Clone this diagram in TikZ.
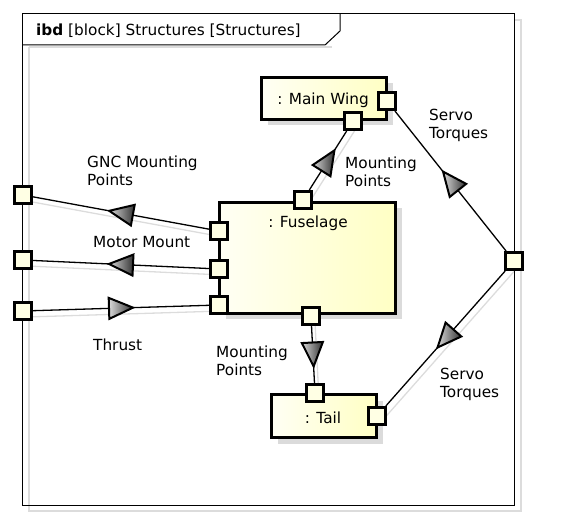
\documentclass[tikz,border=0pt]{standalone}
\usepackage{fontspec}
\setmainfont{DejaVu Sans}
\usepackage{xcolor}
\usetikzlibrary{shadows,backgrounds}

\definecolor{partL}{HTML}{FFFFF4}
\definecolor{partR}{HTML}{FFFFC4}
\definecolor{portY}{HTML}{FFFFE4}
\definecolor{lightline}{HTML}{DCDCDC}

\tikzset{
	part/.style={draw, line width=3pt, left color=partL, right color=partR, inner sep=0,
		drop shadow={shadow xshift=6pt, shadow yshift=-6pt, fill=black!14, opacity=1}},
	port/.style={draw, line width=3pt, fill=portY, minimum size=17pt, inner sep=0},
	wire/.style={line width=1.3pt},
	wireshade/.style={line width=1.3pt, draw=lightline},
	lbl/.style={anchor=north west, inner sep=0, align=left},
	flowtip/.pic={\draw[line width=2pt, left color=gray!30, right color=black!80, line join=miter] (-12,-10.5) -- (12,0) -- (-12,10.5) -- cycle;}
}

\begin{document}
\begin{tikzpicture}[x=1pt, y=-1pt, font=\fontsize{15.3}{18}\selectfont]
		\useasboundingbox (0,0) rectangle (578,518);
		%框
		\draw[line width=1pt] (22,14) rectangle (514,505);
		\draw[line width=1pt] (22,45) -- (325,45) -- (340,31) -- (340,14);
		\node[anchor=base west, inner sep=0](title) at (36,36) {\textbf{ibd} [block] Structures [Structures]};
		%部件
		\draw (324,98.5) node[part, minimum width=125pt, minimum height=42pt](wing){};
		\draw (307.5,258) node[part, minimum width=176pt, minimum height=111pt](fuse){};
		\draw (324,416) node[part, minimum width=105pt, minimum height=43pt](tail){};
		\draw (323,105) node[anchor=base](wing-t){: Main Wing} (308,228) node[anchor=base](fuse-t){: Fuselage} (323,423) node[anchor=base](tail-t){: Tail};
		%端口
		\draw (23,195) node[port](b-1){} (23,260) node[port](b-2){} (23,311) node[port](b-3){} (514,261) node[port](b-4){};
		\draw (387,101) node[port](wi-r){} (353,121) node[port](wi-b){};
		\draw (303,200) node[port](fu-t){} (219,231) node[port](fu-1){} (219,269) node[port](fu-2){} (219,305) node[port](fu-3){} (311,316) node[port](fu-b){};
		\draw (315,393) node[port](ta-t){} (377,416) node[port](ta-r){};
		%连线
		\begin{scope}[on background layer]
			\draw[lightline, line width=1.5pt] (29,47) -- (332,47) (29,47) -- (29,511) -- (521,511) -- (521,20) -- (514,20);
			\foreach \s/\t in {fu-1/b-1, fu-2/b-2, b-3/fu-3, fu-t/wi-b, fu-b/ta-t, b-4/ta-r}
				\draw[wireshade] ([shift={(4,6)}]\s.center) -- ([shift={(4,6)}]\t.center);
			\foreach \s/\t in {fu-1/b-1, fu-2/b-2, b-3/fu-3, fu-t/wi-b, fu-b/ta-t, b-4/wi-r, b-4/ta-r}
				\draw[wire] (\s) -- (\t) pic[pos=.5, sloped, allow upside down]{flowtip};
		\end{scope}
		%标签
		\node[lbl](gnc-l) at (87,156) {GNC Mounting\\Points};
		\node[lbl](mot-l) at (93,236) {Motor Mount};
		\node[lbl](thr-l) at (93,339) {Thrust};
		\node[lbl](mt1-l) at (345,157) {Mounting\\Points};
		\node[lbl](mt2-l) at (216,346) {Mounting\\Points};
		\node[lbl](sv1-l) at (429,109) {Servo\\Torques};
		\node[lbl](sv2-l) at (440,368) {Servo\\Torques};
	\end{tikzpicture}
\end{document}
